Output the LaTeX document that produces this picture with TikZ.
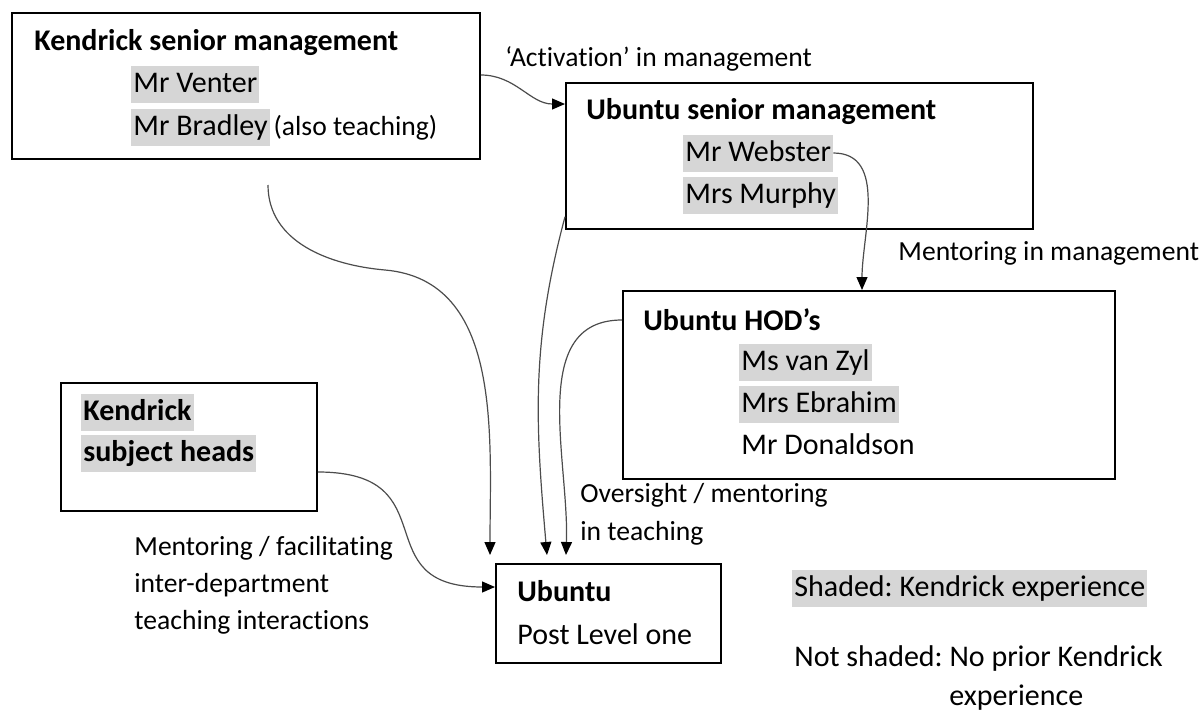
\documentclass[tikz,border=0pt]{standalone}
\usepackage{fontspec}
\setmainfont{Carlito}[Ligatures=NoCommon]
\usetikzlibrary{positioning, arrows.meta, calc}

\begin{document}
\frenchspacing
\begin{tikzpicture}[
    x=0.5pt, y=-0.5pt,
    >={Triangle[length=6.5pt, width=5.5pt, color=black]},
    box/.style={draw, line width=0.9pt, anchor=north west, inner sep=0pt},
    txt/.style={anchor=west, inner xsep=1pt, inner ysep=0pt, text height=13.5pt, text depth=5pt, font=\fontsize{15}{18}\selectfont},
    title/.style={txt, font=\fontsize{15}{18}\selectfont\bfseries},
    hl/.style={txt, fill=black!16},
    label/.style={txt, font=\fontsize{13.8}{17}\selectfont},
    link/.style={->, draw=black!70, line width=0.6pt}
]
    \useasboundingbox (0,0) rectangle (1204,712);

    % --- Caixas ---
    \node[box, minimum width=234pt, minimum height=73pt] (ken_sm) at (11,12) {};
    \node[box, minimum width=233.5pt, minimum height=73pt] (ubu_sm) at (565,82) {};
    \node[box, minimum width=246pt, minimum height=94pt] (ubu_hod) at (622,290) {};
    \node[box, minimum width=128pt, minimum height=64pt] (ken_heads) at (60,382) {};
    \node[box, minimum width=112.5pt, minimum height=49.5pt] (ubu_pl1) at (495,563) {};

    % --- Kendrick senior management ---
    \node[title] (ken_sm_t) at (32,42) {Kendrick senior management};
    \node[hl] (venter) at (131,84) {Mr Venter};
    \node[hl] (bradley) at (131,127) {Mr Bradley};
    \node[label, right=0.5pt of bradley] (bradley_note) {(also teaching)};

    % --- Ubuntu senior management ---
    \node[title] (ubu_sm_t) at (584,111) {Ubuntu senior management};
    \node[hl] (webster) at (683,153) {Mr Webster};
    \node[hl] (murphy) at (683,195) {Mrs Murphy};

    % --- Ubuntu HOD's ---
    \node[title] (ubu_hod_t) at (641,322) {Ubuntu HOD’s};
    \node[hl] (vanzyl) at (739,362) {Ms van Zyl};
    \node[hl] (ebrahim) at (739,404) {Mrs Ebrahim};
    \node[txt] (donaldson) at (739,446) {Mr Donaldson};

    % --- Kendrick subject heads ---
    \node[title, fill=black!16] (ken_heads_a) at (81,412) {Kendrick};
    \node[title, fill=black!16] (ken_heads_b) at (81,453) {subject heads};

    % --- Ubuntu Post Level one ---
    \node[title] (ubu_pl1_t) at (515,593) {Ubuntu};
    \node[txt] (ubu_pl1_s) at (515,636) {Post Level one};

    % --- Rotulos das ligacoes ---
    \node[label] (lbl_act) at (503,58) {‘Activation’ in management};
    \node[label] (lbl_ment) at (896,252) {Mentoring in management};
    \node[label] (lbl_over_a) at (578,494) {Oversight / mentoring};
    \node[label] (lbl_over_b) at (578,532) {in teaching};
    \node[label] (lbl_fac_a) at (132,547) {Mentoring / facilitating};
    \node[label] (lbl_fac_b) at (132,584) {inter-department};
    \node[label] (lbl_fac_c) at (132,621) {teaching interactions};

    % --- Legenda ---
    \node[hl] (leg_shaded) at (792,588) {Shaded: Kendrick experience};
    \node[txt] (leg_not_a) at (792,658) {Not shaded: No prior Kendrick};
    \node[txt] (leg_not_b) at (947,697) {experience};

    % --- Ligacoes ---
    \coordinate (ken_sm_foot) at (268,185);
    \coordinate (ken_sm_bend) at (385,270);

    \draw[link] ([yshift=-31.5pt]ken_sm.north east) to[out=0, in=180] ([yshift=-11pt]ubu_sm.north west);   % activation
    \draw[link] (webster.east) to[out=0, in=90] ([xshift=120pt]ubu_hod.north west);                        % mentoring
    \draw[link] (ken_sm_foot) to[out=-90, in=175] (ken_sm_bend)
        to[out=-5, in=90] ([xshift=-2.5pt, yshift=4pt]ubu_pl1.north west);                                 % senior -> PL1
    \draw[link] ([yshift=6.5pt]ubu_sm.south west) to[out=255, in=95] ([xshift=26pt, yshift=4pt]ubu_pl1.north west);
    \draw[link] ([yshift=-15pt]ubu_hod.north west) to[out=180, in=88] ([xshift=35.5pt, yshift=4pt]ubu_pl1.north west);
    \draw[link] ([yshift=-45pt]ken_heads.north east) to[out=0, in=180, looseness=1.6] ([yshift=-12pt]ubu_pl1.north west);

\end{tikzpicture}
\end{document}
